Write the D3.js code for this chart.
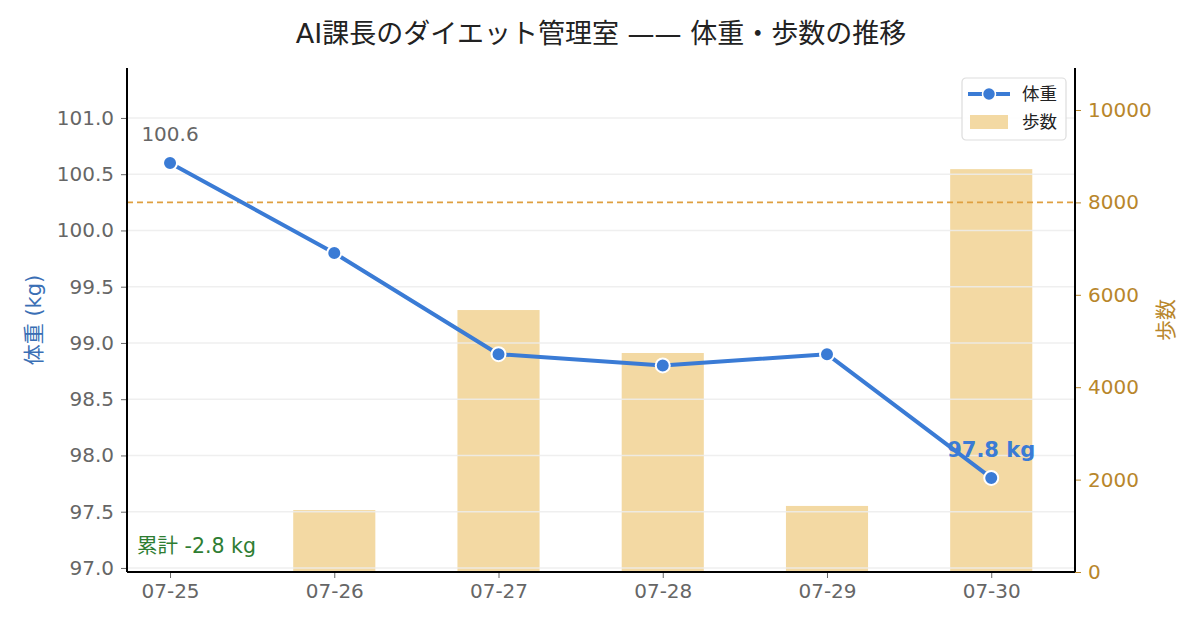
<!DOCTYPE html>
<html>
<head>
<meta charset="utf-8">
<script src="https://cdn.jsdelivr.net/npm/d3@7"></script>
<style>
  body { margin: 0; background: #fff; }
  svg text { font-family: "DejaVu Sans", "Noto Sans CJK JP", sans-serif; }
</style>
</head>
<body>
<div id="chart"></div>
<script>
// data
var dates = ["07-25", "07-26", "07-27", "07-28", "07-29", "07-30"];
var weights = [100.6, 99.8, 98.9, 98.8, 98.9, 97.8];
var steps = [0, 1340, 5670, 4740, 1430, 8720];
var weightTicks = [97.0, 97.5, 98.0, 98.5, 99.0, 99.5, 100.0, 100.5, 101.0];
var stepTicks = [0, 2000, 4000, 6000, 8000, 10000];
var stepGoal = 8000;

var width = 1200, height = 630;
var margin = {top: 68, right: 125, bottom: 58, left: 127};
var w = width - margin.left - margin.right,
    h = height - margin.top - margin.bottom;

var blue = "#3a7bd5", bar = "#f3d9a3", gold = "#b8862b", grey = "#666";

var x = d3.scaleLinear().domain([-0.262, 5.51]).range([0, w]);
var y = d3.scaleLinear().domain([96.964, 101.444]).range([h, 0]);
var y2 = d3.scaleLinear().domain([0, 10909]).range([h, 0]);

var svg = d3.select("#chart").append("svg")
    .attr("width", width)
    .attr("height", height);

svg.append("text")
    .attr("x", 601).attr("y", 43)
    .attr("text-anchor", "middle")
    .attr("font-size", 27)
    .attr("fill", "#222")
    .text("AI課長のダイエット管理室 —— 体重・歩数の推移");

var g = svg.append("g")
    .attr("transform", "translate(" + margin.left + "," + margin.top + ")");

// step bars
g.selectAll("rect.bar")
    .data(steps)
    .enter().append("rect")
    .attr("class", "bar")
    .attr("x", function(d, i) { return x(i - 0.25); })
    .attr("width", x(0.5) - x(0))
    .attr("y", function(d) { return y2(d); })
    .attr("height", function(d) { return h - y2(d); })
    .attr("fill", bar);

// grid on top of bars
g.selectAll("line.grid")
    .data(weightTicks)
    .enter().append("line")
    .attr("x1", 0).attr("x2", w)
    .attr("y1", function(d) { return y(d); })
    .attr("y2", function(d) { return y(d); })
    .attr("stroke", "#ececec")
    .attr("stroke-opacity", 0.85)
    .attr("stroke-width", 1.5);

// goal line
g.append("line")
    .attr("x1", 0).attr("x2", w)
    .attr("y1", y2(stepGoal)).attr("y2", y2(stepGoal))
    .attr("stroke", "#dfa040")
    .attr("stroke-width", 1.6)
    .attr("stroke-dasharray", "6,4");

// weight line
var line = d3.line()
    .x(function(d, i) { return x(i); })
    .y(function(d) { return y(d); });

g.append("path")
    .datum(weights)
    .attr("fill", "none")
    .attr("stroke", blue)
    .attr("stroke-width", 4)
    .attr("stroke-linejoin", "round")
    .attr("d", line);

g.selectAll("circle.pt")
    .data(weights)
    .enter().append("circle")
    .attr("cx", function(d, i) { return x(i); })
    .attr("cy", function(d) { return y(d); })
    .attr("r", 7)
    .attr("fill", blue)
    .attr("stroke", "#fff")
    .attr("stroke-width", 2);

// annotations
g.append("text")
    .attr("x", x(0)).attr("y", y(weights[0]) - 22)
    .attr("text-anchor", "middle")
    .attr("font-size", 20)
    .attr("fill", grey)
    .text(weights[0].toFixed(1));

var last = weights.length - 1;
g.append("text")
    .attr("x", x(last)).attr("y", y(weights[last]) - 21)
    .attr("text-anchor", "middle")
    .attr("font-size", 21)
    .attr("font-weight", "bold")
    .attr("fill", blue)
    .text(weights[last].toFixed(1) + " kg");

g.append("text")
    .attr("x", 10).attr("y", h - 19)
    .attr("font-size", 20.5)
    .attr("fill", "#2e7d32")
    .text("累計 " + (weights[last] - weights[0]).toFixed(1) + " kg");

// axes
var yAxis = g.append("g")
    .call(d3.axisLeft(y).tickValues(weightTicks).tickFormat(d3.format(".1f")).tickSize(6).tickPadding(7));
yAxis.selectAll("text").attr("font-size", 20).attr("fill", grey);
yAxis.selectAll(".tick line").attr("stroke", grey);

var y2Axis = g.append("g")
    .attr("transform", "translate(" + w + ",0)")
    .call(d3.axisRight(y2).tickValues(stepTicks).tickFormat(d3.format("d")).tickSize(6).tickPadding(7));
y2Axis.selectAll("text").attr("font-size", 20).attr("fill", gold);
y2Axis.selectAll(".tick line").attr("stroke", gold);

var xAxis = g.append("g")
    .attr("transform", "translate(0," + h + ")")
    .call(d3.axisBottom(x).tickValues(d3.range(dates.length))
        .tickFormat(function(i) { return dates[i]; }).tickSize(6).tickPadding(6));
xAxis.selectAll("text").attr("font-size", 20).attr("fill", grey);
xAxis.selectAll(".tick line").attr("stroke", grey);

[yAxis, y2Axis, xAxis].forEach(function(a) {
    a.select(".domain").remove();
});

// spines
g.append("line").attr("x1", 0).attr("x2", 0).attr("y1", 0).attr("y2", h)
    .attr("stroke", "#000").attr("stroke-width", 2);
g.append("line").attr("x1", w).attr("x2", w).attr("y1", 0).attr("y2", h)
    .attr("stroke", "#000").attr("stroke-width", 2);
g.append("line").attr("x1", 0).attr("x2", w).attr("y1", h).attr("y2", h)
    .attr("stroke", "#000").attr("stroke-width", 2);

// axis titles
svg.append("text")
    .attr("transform", "translate(41," + (margin.top + h / 2) + ") rotate(-90)")
    .attr("text-anchor", "middle")
    .attr("font-size", 21)
    .attr("fill", "#3a6fb5")
    .text("体重 (kg)");

svg.append("text")
    .attr("transform", "translate(1173," + (margin.top + h / 2) + ") rotate(-90)")
    .attr("text-anchor", "middle")
    .attr("font-size", 21)
    .attr("fill", gold)
    .text("歩数");

// legend
var leg = g.append("g").attr("transform", "translate(" + (w - 113) + ",10)");
leg.append("rect")
    .attr("width", 104).attr("height", 62)
    .attr("rx", 4)
    .attr("fill", "#fff").attr("fill-opacity", 0.85)
    .attr("stroke", "#ddd").attr("stroke-width", 1.2);
leg.append("line")
    .attr("x1", 6).attr("x2", 48).attr("y1", 16).attr("y2", 16)
    .attr("stroke", blue).attr("stroke-width", 4);
leg.append("circle")
    .attr("cx", 27).attr("cy", 16).attr("r", 6.5)
    .attr("fill", blue).attr("stroke", "#fff").attr("stroke-width", 1.5);
leg.append("rect")
    .attr("x", 8).attr("y", 37).attr("width", 38).attr("height", 14)
    .attr("fill", bar);
leg.append("text")
    .attr("x", 60).attr("y", 22).attr("font-size", 17.5).attr("fill", "#222")
    .text("体重");
leg.append("text")
    .attr("x", 60).attr("y", 50).attr("font-size", 17.5).attr("fill", "#222")
    .text("歩数");
</script>
</body>
</html>
